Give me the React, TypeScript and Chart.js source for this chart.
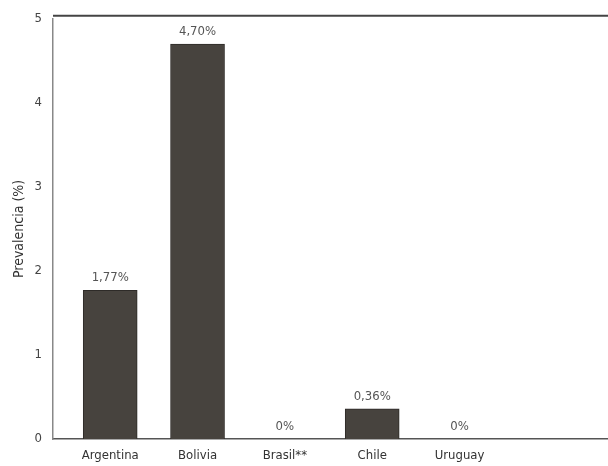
import React, { useEffect, useRef } from "react";
import { Chart, registerables } from "chart.js";

Chart.register(...registerables);

const categories = ["Argentina", "Bolivia", "Brasil**", "Chile", "Uruguay"];
const prevalence = [1.77, 4.7, 0, 0.36, 0];
const yTicks = [0, 1, 2, 3, 4, 5];

const FONT = "'Liberation Sans Narrow', 'DejaVu Sans Condensed', sans-serif";

const fmt = (v: number) => (v === 0 ? "0%" : v.toFixed(2).replace(".", ",") + "%");

const valueLabels = {
  id: "valueLabels",
  afterDatasetsDraw(chart: any) {
    const ctx = chart.ctx;
    const meta = chart.getDatasetMeta(0);
    ctx.save();
    ctx.font = `13px ${FONT}`;
    ctx.fillStyle = "#555";
    ctx.textAlign = "center";
    ctx.textBaseline = "bottom";
    meta.data.forEach((el: any, i: number) => {
      ctx.fillText(fmt(prevalence[i]), el.x, el.y - 6);
    });
    ctx.restore();
  },
};

const topBorder = {
  id: "topBorder",
  afterDraw(chart: any) {
    const { ctx, chartArea } = chart;
    ctx.save();
    ctx.strokeStyle = "#444";
    ctx.lineWidth = 2;
    ctx.beginPath();
    ctx.moveTo(chartArea.left, chartArea.top - 3);
    ctx.lineTo(chartArea.right, chartArea.top - 3);
    ctx.stroke();
    ctx.restore();
  },
};

export default function App() {
  const ref = useRef<HTMLCanvasElement>(null);
  useEffect(() => {
    document.body.style.margin = "0";
    const chart = new Chart(ref.current!, {
      type: "bar",
      data: {
        labels: categories,
        datasets: [
          {
            data: prevalence.map((v, i) => ({ x: i, y: v })),
            backgroundColor: "#47433e",
            borderColor: "#2e2b28",
            borderWidth: 1,
            barThickness: 54,
          },
        ],
      },
      options: {
        animation: false,
        responsive: false,
        parsing: false as any,
        layout: { padding: { top: 16, right: 0, left: 0, bottom: 0 } },
        plugins: { legend: { display: false }, tooltip: { enabled: false } },
        scales: {
          x: {
            type: "linear",
            offset: false,
            min: -0.655,
            max: 5.7,
            afterBuildTicks: (axis: any) => {
              axis.ticks = categories.map((_, i) => ({ value: i }));
            },
            afterFit: (s: any) => {
              s.height = 27;
            },
            grid: { display: false, drawTicks: false, offset: false },
            border: { display: true, color: "#555", width: 1.5 },
            ticks: {
              autoSkip: false,
              maxRotation: 0,
              padding: 9,
              color: "#333",
              font: { family: FONT, size: 13 },
              callback: (v: any) => categories[v] ?? "",
            },
          },
          y: {
            min: 0,
            max: 5,
            afterBuildTicks: (axis: any) => {
              axis.ticks = yTicks.map((v) => ({ value: v }));
            },
            afterFit: (s: any) => {
              s.width = 53;
            },
            grid: { display: false, drawTicks: false },
            border: { display: true, color: "#888", width: 1.5 },
            ticks: {
              padding: 11,
              color: "#444",
              font: { family: FONT, size: 13 },
            },
            title: {
              display: true,
              text: "Prevalencia (%)",
              color: "#333",
              font: { family: FONT, size: 14 },
              padding: { top: 11, bottom: 0 },
            },
          },
        },
      },
      plugins: [valueLabels, topBorder],
    });
    return () => chart.destroy();
  }, []);
  return (
    <div style={{ position: "relative", width: 608, height: 466, background: "#fff" }}>
      <canvas ref={ref} width={608} height={466} />
    </div>
  );
}
